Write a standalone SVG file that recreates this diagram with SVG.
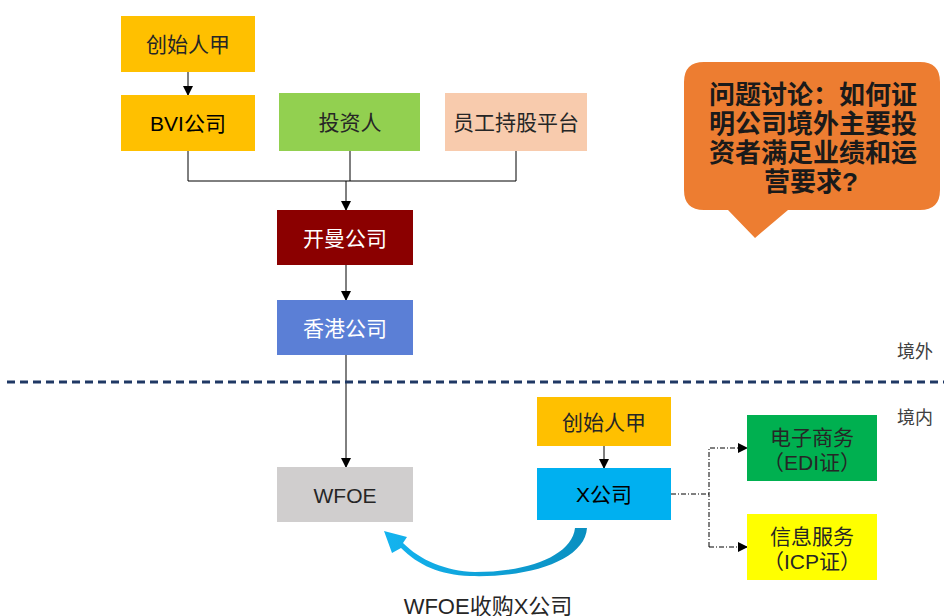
<svg xmlns="http://www.w3.org/2000/svg" width="944" height="616" viewBox="0 0 944 616">
<defs>
<style>
text{font-family:"Liberation Sans","Noto Sans CJK SC",sans-serif;font-size:21px;fill:#262626;text-anchor:middle;dominant-baseline:central}
.w{fill:#ffffff}
.c{stroke:#000;stroke-width:1;fill:none}
.dd{stroke:#000;stroke-width:1;fill:none;stroke-dasharray:5 2 1 2}
.side{font-size:18px;fill:#404040;text-anchor:start}
.q{font-size:26px;font-weight:bold;fill:#1a1a1a;text-anchor:start}
</style>
<marker id="ah" markerWidth="10" markerHeight="10" refX="9" refY="5" orient="auto" markerUnits="userSpaceOnUse">
<path d="M0,0 L10,5 L0,10 Z" fill="#000"/>
</marker>
<linearGradient id="g" x1="587" y1="0" x2="383" y2="0" gradientUnits="userSpaceOnUse">
<stop offset="0" stop-color="#0A8FC0"/>
<stop offset="1" stop-color="#14B4F0"/>
</linearGradient>
</defs>
<rect width="944" height="616" fill="#fff"/>

<g id="connectors">
<line class="c" x1="188" y1="72" x2="188" y2="95" marker-end="url(#ah)"/>
<polyline class="c" points="188,151 188,181 516,181 516,151"/>
<line class="c" x1="350" y1="151" x2="350" y2="181"/>
<line class="c" x1="346" y1="181" x2="346" y2="210" marker-end="url(#ah)"/>
<line class="c" x1="346" y1="265" x2="346" y2="300" marker-end="url(#ah)"/>
<line class="c" x1="346" y1="355" x2="346" y2="467" marker-end="url(#ah)"/>
<line class="c" x1="604" y1="446" x2="604" y2="468" marker-end="url(#ah)"/>
<polyline class="dd" points="671,494 709,494"/>
<polyline class="dd" points="709,547 709,448 747,448" marker-end="url(#ah)"/>
<polyline class="dd" points="709,547 747,547" marker-end="url(#ah)"/>
<path id="curve" d="M575,528 L587,528 C585,560 530,578 470,576 C440,575 418,565 401,548 L392,553 L384,531 L407,537 L403,543 C420,560 445,571 475,572 C530,572 572,555 575,528 Z" fill="url(#g)"/>
</g>

<line x1="7" y1="382" x2="944" y2="382" stroke="#1F3864" stroke-width="3" stroke-dasharray="8 5"/>
<text class="side" x="897" y="352">境外</text>
<text class="side" x="897" y="418">境内</text>

<g id="founder1"><rect x="121" y="16" width="134" height="56" fill="#FFC000"/><text x="188" y="44">创始人甲</text></g>
<g id="bvi"><rect x="121" y="95" width="134" height="56" fill="#FFC000"/><text x="188" y="123" style="fill:#000">BVI公司</text></g>
<g id="investor"><rect x="279" y="93" width="141" height="58" fill="#92D050"/><text x="350" y="122">投资人</text></g>
<g id="esop"><rect x="445" y="93" width="142" height="58" fill="#F8CBAD"/><text x="516" y="122">员工持股平台</text></g>
<g id="cayman"><rect x="277" y="210" width="136" height="55" fill="#8B0000"/><text class="w" x="345" y="238">开曼公司</text></g>
<g id="hk"><rect x="277" y="300" width="136" height="55" fill="#5B7FD6"/><text class="w" x="345" y="328">香港公司</text></g>
<g id="wfoe"><rect x="277" y="467" width="136" height="55" fill="#D0CECE"/><text x="345" y="495">WFOE</text></g>
<g id="founder2"><rect x="537" y="397" width="134" height="49" fill="#FFC000"/><text x="604" y="422">创始人甲</text></g>
<g id="xco"><rect x="537" y="468" width="134" height="52" fill="#00B0F0"/><text x="604" y="494" style="fill:#000">X公司</text></g>
<g id="edi"><rect x="747" y="415" width="130" height="66" fill="#00B050"/><text x="812" y="437">电子商务</text><text x="812" y="462">（EDI证）</text></g>
<g id="icp"><rect x="747" y="514" width="130" height="66" fill="#FFFF00"/><text x="812" y="536">信息服务</text><text x="812" y="561">（ICP证）</text></g>

<text x="488" y="606" style="font-size:22px">WFOE收购X公司</text>

<g id="callout">
<path d="M704,62 H920 Q940,62 940,82 V190 Q940,210 920,210 H788 L755,238 L728,210 H704 Q684,210 684,190 V82 Q684,62 704,62 Z" fill="#ED7D31"/>
<text class="q" x="709" y="95">问题讨论：如何证</text>
<text class="q" x="709" y="124">明公司境外主要投</text>
<text class="q" x="709" y="153">资者满足业绩和运</text>
<text class="q" x="764" y="182">营要求?</text>
</g>
</svg>
